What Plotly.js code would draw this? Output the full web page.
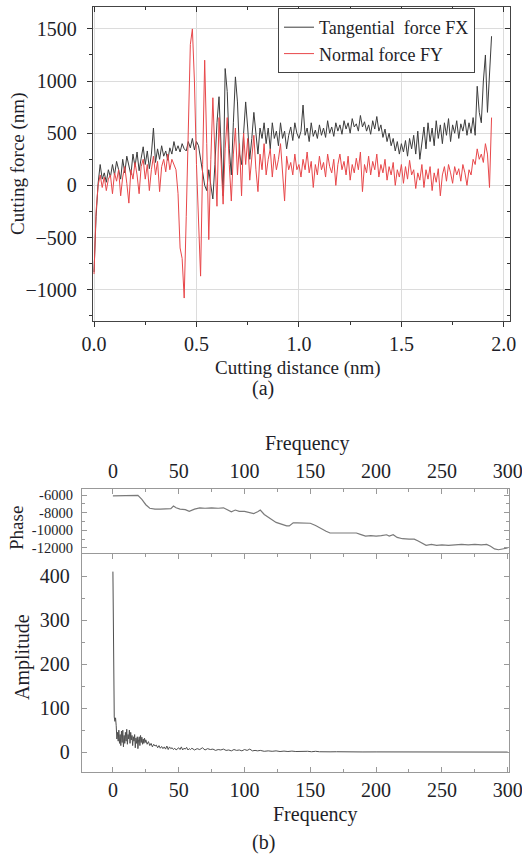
<!DOCTYPE html>
<html>
<head>
<meta charset="utf-8">
<script src="https://cdn.plot.ly/plotly-3.0.1.min.js"></script>
<style>
  html, body { margin: 0; padding: 0; background: #fff; }
  #chart { width: 522px; height: 854px; }
</style>
</head>
<body>
<div id="chart"></div>
<script>
// ---------- (a) cutting force vs cutting distance (step 0.01 nm) ----------
const distanceStep = 0.01;
const forceFX = [
  -830, -300, 20, 200, 60, 120, 30, 150, 80, 200,
  100, 230, 150, 60, 250, 120, 280, 180, 100, 300,
  180, 320, 140, 260, 370, 200, 330, 160, 300, 550,
  220, 350, 250, 380, 280, 330, 240, 360, 300, 420,
  330, 380, 320, 400, 350, 330, 420, 360, 450, 340,
  420, 380, 250, 100, 0, -50, 150, 0, -130, 200,
  600, 850, 300, -100, 1120, 900, 350, 100, 600, 1040,
  800, 300, 200, 500, 800, 550, 250, 450, 700, 500,
  300, 550, 450, 600, 400, 550, 350, 600, 450, 520,
  380, 600, 450, 520, 350, 480, 560, 430, 600, 500,
  450, 520, 770, 480, 550, 420, 600, 470, 530, 450,
  580, 480, 550, 460, 620, 500, 560, 470, 600, 520,
  580, 490, 620, 540, 600, 500, 640, 560, 590, 520,
  670, 560, 610, 520, 580, 490, 620, 540, 660, 520,
  580, 460, 540, 420, 500, 380, 450, 330, 420, 300,
  400, 320, 430, 280, 450, 350, 480, 300, 520, 250,
  420, 560, 350, 600, 420, 550, 380, 620, 450, 580,
  400, 600, 480, 640, 420, 580, 500, 620, 450, 590,
  520, 630, 480, 600, 500, 650, 480, 950, 700, 600,
  1000, 1250, 700, 1100, 1430
];
const forceFY = [
  -850, -250, 0, 100, -20, 80, -50, 60, 100, -80,
  120, 40, 150, -100, 80, 180, 20, -170, 150, 60,
  220, 100, -80, 180, 250, 60, 200, -50, 150, 280,
  100, 230, -60, 180, 250, 130, 300, 150, 250, 200,
  150, -80, -600, -700, -1080, -300, 600, 1350, 1500, 1000,
  200, -400, -870, 200, 1200, 400, -520, 250, 840, 300,
  -200, 650, 200, -180, 350, 650, 200, -150, 300, 550,
  100, 400, -100, 500, 200, 450, 50, 300, 480, 150,
  -60, 300, 150, 400, 100, 250, 350, 80, 300, 150,
  250, 400, 100, -150, 280, 150, 220, 100, 300, 150,
  200, 80, 250, 150, 320, 120, 230, -20, 200, 100,
  280, 150, 220, 80, 300, 180, 120, 250, 0, 200,
  300, 150, 230, 100, 280, 50, 200, 120, 260, 150,
  320, -60, 200, 120, 280, 100, 230, 150, 300, 80,
  200, 120, 250, 50, 180, 100, 220, 0, 150, 80,
  200, 20, 180, 60, 240, 100, 150, -30, 120, 50,
  200, -20, 150, 60, 180, -50, 120, 30, 160, -100,
  100, 180, 40, 200, 120, 20, 180, 100, 160, 40,
  200, 120, 0, 150, 100, 250, 200, 350, 250, 300,
  220, 400, 300, -20, 650
];
const forceLegend = ["Tangential  force FX", "Normal force FY"];

// ---------- (b) FFT: phase and amplitude vs frequency ----------
const phaseFreq = [0, 5, 10, 15, 19, 22, 25, 28, 32, 36, 40, 44, 46, 48, 51, 55, 58, 62, 66, 70,
  75, 80, 84, 87, 90, 93, 96, 100, 104, 107, 110, 112, 115, 118, 121, 124, 128, 132, 134, 137,
  140, 145, 150, 154, 158, 162, 165, 170, 175, 180, 185, 188, 192, 196, 200, 204, 208, 210, 213, 216,
  220, 225, 229, 232, 235, 238, 242, 246, 250, 255, 260, 265, 270, 275, 280, 284, 287, 290, 293, 296, 300];
const phaseVal = [-6100, -6100, -6050, -6100, -6050, -6500, -7100, -7500, -7600, -7600, -7600, -7550, -7250, -7450, -7600, -7650, -7850, -7600, -7450, -7500,
  -7450, -7500, -7450, -7700, -7900, -7700, -7850, -7850, -7950, -8100, -7900, -7700, -8200, -8500, -8900, -9100, -9300, -9500, -9500, -9150,
  -9150, -9200, -9200, -9450, -9800, -10100, -10300, -10300, -10250, -10300, -10300, -10450, -10650, -10600, -10650, -10600, -10500, -10650, -10500, -10800,
  -10950, -11000, -11000, -11200, -11500, -11700, -11600, -11700, -11650, -11700, -11650, -11600, -11650, -11600, -11650, -11600, -11800, -12100, -12200, -12100, -12000];

const ampFreq = [0, 0.5, 1, 1.5, 2, 2.5, 3, 3.5, 4, 4.5, 5, 5.5, 6, 6.5, 7, 7.5, 8, 8.5, 9, 9.5,
  10, 10.5, 11, 11.5, 12, 12.5, 13, 13.5, 14, 14.5, 15, 15.5, 16, 16.5, 17, 17.5, 18, 18.5, 19, 19.5,
  20, 20.5, 21, 21.5, 22, 22.5, 23, 23.5, 24, 24.5, 25, 26, 27, 28, 29, 30, 31, 32, 33, 34,
  35, 36, 37, 38, 39, 40, 41, 42, 43, 44, 45, 46, 47, 48, 49, 50, 51, 52, 53, 54,
  55, 56, 57, 58, 59, 60, 62, 64, 66, 68, 70, 72, 74, 76, 78, 80, 82, 84, 86, 88,
  90, 92, 94, 96, 98, 100, 102, 104, 106, 108, 110, 112, 115, 118, 121, 124, 127, 130, 133, 136,
  139, 142, 145, 148, 151, 154, 157, 160, 165, 170, 175, 180, 190, 200, 210, 220, 230, 240, 250, 260,
  270, 280, 290, 300];
const ampVal = [410, 150, 80, 70, 78, 60, 30, 45, 25, 50, 20, 40, 15, 48, 22, 50, 12, 38, 20, 45,
  25, 52, 18, 40, 30, 50, 20, 45, 28, 38, 15, 35, 25, 40, 10, 32, 20, 35, 8, 28,
  35, 15, 38, 22, 34, 18, 30, 20, 32, 22, 28, 18, 24, 15, 20, 12, 18, 14, 16, 10,
  15, 9, 13, 8, 12, 7, 14, 6, 12, 8, 10, 6, 9, 5, 8, 10, 6, 12, 5, 9,
  7, 11, 5, 8, 6, 9, 5, 8, 6, 10, 5, 8, 6, 7, 4, 6, 5, 7, 4, 5,
  3, 6, 4, 5, 3, 6, 4, 7, 3, 4, 3, 4, 2, 3, 2, 3, 1.5, 2.5, 1.5, 2.5,
  1.5, 2, 1.5, 2, 1, 2, 1, 1.5, 0.8, 1, 0.6, 0.8, 0.5, 0.6, 0.4, 0.5, 0.3, 0.4, 0.3, 0.3,
  0.2, 0.3, 0.2, 0.2];

// ---------- build ----------
const distFX = forceFX.map((_, i) => +(i * distanceStep).toFixed(2));
const distFY = forceFY.map((_, i) => +(i * distanceStep).toFixed(2));

const SERIF = "'Liberation Serif', 'Times New Roman', serif";
const TXT = "#1e1e28";

const traces = [
  { x: distFX, y: forceFX, type: "scatter", mode: "lines", name: forceLegend[0],
    line: { color: "#3c3c3c", width: 1 }, xaxis: "x", yaxis: "y" },
  { x: distFY, y: forceFY, type: "scatter", mode: "lines", name: forceLegend[1],
    line: { color: "#e8474a", width: 1 }, xaxis: "x", yaxis: "y" },
  { x: [], y: [], type: "scatter", mode: "lines", showlegend: false, hoverinfo: "skip",
    xaxis: "x4", yaxis: "y4" },
  { x: phaseFreq, y: phaseVal, type: "scatter", mode: "lines", showlegend: false,
    line: { color: "#7a7a7a", width: 1.2 }, xaxis: "x2", yaxis: "y2" },
  { x: ampFreq, y: ampVal, type: "scatter", mode: "lines", showlegend: false,
    line: { color: "#505050", width: 1 }, xaxis: "x3", yaxis: "y3" }
];

const domTopX = [93 / 522, 510 / 522];
const domTopY = [1 - 321 / 854, 1 - 7 / 854];
const domBX = [82 / 522, 509 / 522];
const domPhY = [1 - 554 / 854, 1 - 489 / 854];
const domAmY = [1 - 772 / 854, 1 - 554 / 854];

const tickFontA = { family: SERIF, size: 20, color: TXT };

function ann(text, px, py, size, angle) {
  return { text: text, xref: "paper", yref: "paper", x: px / 522, y: 1 - py / 854,
    xanchor: "center", yanchor: "middle", showarrow: false, textangle: angle || 0,
    font: { family: SERIF, size: size, color: TXT } };
}

const layout = {
  width: 522, height: 854,
  margin: { l: 0, r: 0, t: 0, b: 0 },
  paper_bgcolor: "#fff", plot_bgcolor: "#fff",
  showlegend: true,
  legend: { x: 278 / 522, y: 1 - 8 / 854, xanchor: "left", yanchor: "top",
    bgcolor: "#fff", bordercolor: "#444", borderwidth: 1,
    font: { family: SERIF, size: 18, color: TXT }, tracegroupgap: 0 },
  // top chart
  xaxis: { domain: domTopX, anchor: "y", range: [-0.005, 2.03], tickmode: "linear", tick0: 0, dtick: 0.5,
    tickformat: ".1f", ticks: "outside", ticklen: 5, tickcolor: "#333", showline: true, linecolor: "#444",
    linewidth: 1.2, mirror: false, showgrid: true, gridcolor: "#dcdcdc", zeroline: false,
    tickfont: tickFontA, ticklabelstandoff: 0, ticklabeloverflow: "allow",
    minor: { dtick: 0.25, ticks: "outside", ticklen: 3, tickcolor: "#333", showgrid: false } },
  yaxis: { domain: domTopY, anchor: "x", range: [-1300, 1710], tickmode: "linear", tick0: 0, dtick: 500,
    ticks: "outside", ticklen: 5, tickcolor: "#333", showline: true, linecolor: "#444", linewidth: 1.2,
    mirror: false, showgrid: true, gridcolor: "#dcdcdc", zeroline: false,
    tickfont: tickFontA, ticklabelstandoff: 6,
    minor: { dtick: 250, ticks: "outside", ticklen: 3, tickcolor: "#333", showgrid: false } },
  xaxis4: { overlaying: "x", side: "top", anchor: "y4", range: [-0.005, 2.03], tickmode: "linear",
    tick0: 0, dtick: 0.5, ticks: "inside", ticklen: 5, tickcolor: "#333", showline: true, linecolor: "#444",
    linewidth: 1.2, showgrid: false, zeroline: false, showticklabels: false,
    minor: { dtick: 0.25, ticks: "inside", ticklen: 3, tickcolor: "#333", showgrid: false } },
  yaxis4: { overlaying: "y", side: "right", anchor: "x4", range: [-1300, 1710], tickmode: "linear",
    tick0: 0, dtick: 500, ticks: "inside", ticklen: 5, tickcolor: "#333", showline: true, linecolor: "#444",
    linewidth: 1.2, showgrid: false, zeroline: false, showticklabels: false,
    minor: { dtick: 250, ticks: "inside", ticklen: 3, tickcolor: "#333", showgrid: false } },
  // phase panel
  xaxis2: { domain: domBX, anchor: "y2", side: "top", range: [-23.5, 301], tickmode: "linear", tick0: 0,
    dtick: 50, ticks: "inside", ticklen: 5, tickcolor: "#999", showline: true, linecolor: "#999",
    linewidth: 1.2, mirror: false, showgrid: false, zeroline: false,
    tickfont: { family: SERIF, size: 20, color: TXT }, ticklabelstandoff: 2, ticklabeloverflow: "allow",
    minor: { dtick: 25, ticks: "inside", ticklen: 3, tickcolor: "#999" } },
  yaxis2: { domain: domPhY, anchor: "x2", range: [-12680, -5320], tickmode: "array",
    tickvals: [-6000, -8000, -10000, -12000], ticktext: ["-6000", "-8000", "-10000", "-12000"],
    ticks: "inside", ticklen: 5, tickcolor: "#999", showline: true, linecolor: "#999", linewidth: 1.2,
    mirror: "ticks", showgrid: false, zeroline: false,
    tickfont: { family: SERIF, size: 14.5, color: TXT }, ticklabelstandoff: 5,
    minor: { dtick: 1000, ticks: "inside", ticklen: 3, tickcolor: "#999" } },
  // amplitude panel
  xaxis3: { domain: domBX, anchor: "y3", range: [-23.5, 301], tickmode: "linear", tick0: 0, dtick: 50,
    ticks: "inside", ticklen: 5, tickcolor: "#999", showline: true, linecolor: "#999", linewidth: 1.2,
    mirror: "ticks", showgrid: false, zeroline: false,
    tickfont: { family: SERIF, size: 20, color: TXT }, ticklabelstandoff: 0, ticklabeloverflow: "allow",
    minor: { dtick: 25, ticks: "inside", ticklen: 3, tickcolor: "#999" } },
  yaxis3: { domain: domAmY, anchor: "x3", range: [-45, 450], tickmode: "linear", tick0: 0, dtick: 100,
    ticks: "inside", ticklen: 5, tickcolor: "#999", showline: true, linecolor: "#999", linewidth: 1.2,
    mirror: "ticks", showgrid: false, zeroline: false,
    tickfont: { family: SERIF, size: 20, color: TXT }, ticklabelstandoff: 7,
    minor: { dtick: 50, ticks: "inside", ticklen: 3, tickcolor: "#999" } },
  annotations: [
    ann("Cutting force (nm)", 18, 164, 19, -90),
    ann("Cutting distance (nm)", 298, 368, 19),
    ann("(a)", 263, 389, 20),
    ann("Frequency", 307, 443, 20),
    ann("Phase", 16, 528, 19, -90),
    ann("Amplitude", 22, 657, 20, -90),
    ann("Frequency", 315, 814, 20),
    ann("(b)", 263, 842, 20)
  ]
};

Plotly.newPlot("chart", traces, layout, { staticPlot: true, displayModeBar: false });
</script>
</body>
</html>
